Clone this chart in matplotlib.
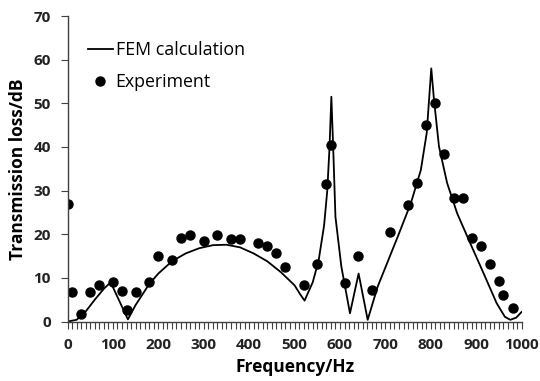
import matplotlib.pyplot as plt
import numpy as np
from matplotlib.ticker import MultipleLocator

plt.rcParams['font.family'] = ['Open Sans', 'DejaVu Sans']

# FEM calculation curve (Hz, dB)
fem_freq = [0, 20, 40, 60, 80, 95, 133, 150, 180, 200, 230, 260, 290, 320, 350,
            380, 410, 440, 470, 500, 512, 522, 540, 553, 565, 572, 577, 581,
            585, 590, 603, 622, 641, 661, 683, 705, 727, 756, 778, 791, 801,
            807, 818, 836, 858, 887, 916, 945, 963, 975, 988, 1000]
fem_tl = [0, 0.4, 2.3, 5.0, 7.5, 9.0, 0.5, 3.8, 8.6, 11.0, 13.8, 15.6, 16.8, 17.5, 17.6,
          17.0, 15.6, 13.8, 11.3, 8.3, 6.3, 4.8, 9.0, 14.0, 22.0, 30.0, 40.0, 51.5,
          40.0, 24.0, 12.6, 1.9, 11.0, 0.4, 8.0, 13.7, 19.4, 27.1, 34.7, 43.2, 58.0,
          50.8, 40.1, 31.7, 24.8, 17.9, 11.1, 4.2, 1.1, 0.4, 0.9, 2.2]

# experiment points (Hz, dB)
exp_freq = [0, 10, 30, 50, 70, 100, 120, 130, 150, 180, 200, 230, 250, 270, 300,
            330, 360, 380, 420, 440, 460, 480, 520, 550, 570, 580, 610, 640, 670,
            710, 750, 770, 790, 810, 830, 850, 870, 890, 910, 930, 950, 960, 980]
exp_tl = [27.0, 6.8, 1.8, 6.8, 8.3, 9.0, 7.0, 2.6, 6.8, 9.1, 15.0, 14.0, 19.2, 19.8, 18.5,
          19.9, 19.0, 18.9, 18.1, 17.2, 15.6, 12.4, 8.4, 13.2, 31.5, 40.5, 8.9, 15.0, 7.3,
          20.5, 26.8, 31.8, 45.1, 50.0, 38.5, 28.2, 28.2, 19.2, 17.4, 13.1, 9.4, 6.0, 3.2]

fig = plt.figure(figsize=(5.4, 3.81), dpi=100)
ax = fig.add_axes([0.125, 0.156, 0.841, 0.802])

ax.plot(fem_freq, fem_tl, color='black', lw=1.3, label='FEM calculation')
ax.plot(exp_freq, exp_tl, 'o', color='black', ms=6.5, label='Experiment')

ax.set_xlim(0, 1000)
ax.set_ylim(0, 70)
ax.xaxis.set_major_locator(MultipleLocator(100))
ax.xaxis.set_minor_locator(MultipleLocator(10))
ax.yaxis.set_major_locator(MultipleLocator(10))

for s in ['top', 'right']:
    ax.spines[s].set_visible(False)
for s in ['left', 'bottom']:
    ax.spines[s].set_color('#404040')
    ax.spines[s].set_linewidth(1.0)

ax.tick_params(axis='x', which='both', direction='out', length=5, width=0.8,
               color='#404040', pad=7)
ax.tick_params(axis='y', which='major', direction='out', length=5, width=0.8,
               color='#404040', pad=7)
for lbl in ax.get_xticklabels() + ax.get_yticklabels():
    lbl.set_fontsize(11)
    lbl.set_fontweight('bold')
    lbl.set_color('#222222')

ax.set_xlabel('Frequency/Hz', fontsize=12.5, fontweight='bold', labelpad=4)
ax.set_ylabel('Transmission loss/dB', fontsize=12.5, fontweight='bold', labelpad=5)

ax.legend(loc='upper left', bbox_to_anchor=(0.163, 0.892), bbox_transform=fig.transFigure,
          frameon=False, fontsize=12.8, handlelength=1.4, handletextpad=0.15,
          labelspacing=0.8, borderaxespad=0, borderpad=0)

fig.savefig('out.png', dpi=100)
